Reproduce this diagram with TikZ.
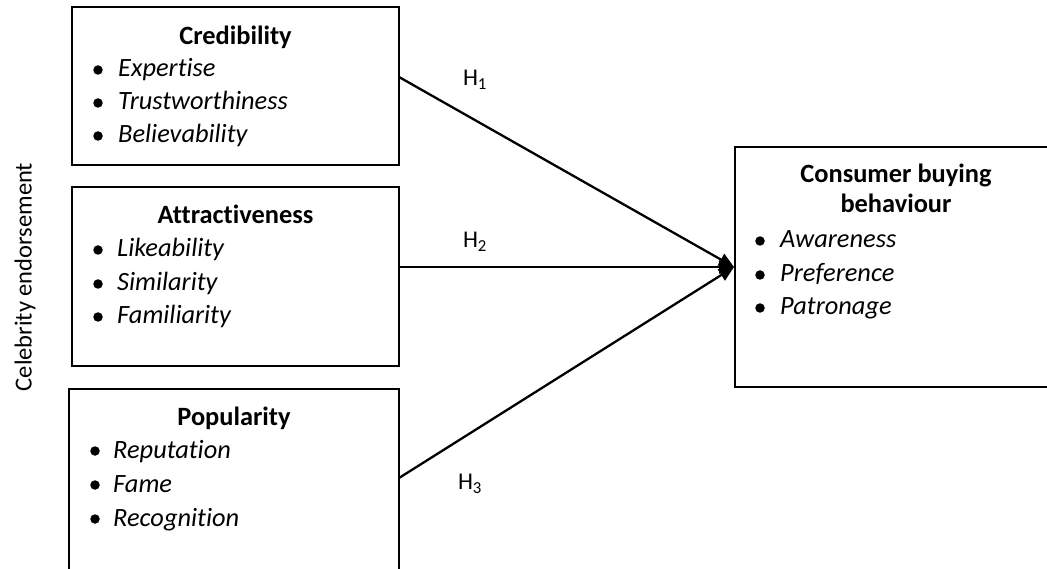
\documentclass[tikz,border=0pt]{standalone}
\usepackage{fontspec}
\setmainfont{Carlito}[RawFeature=-liga]
\usetikzlibrary{arrows.meta}
\begin{document}
\begin{tikzpicture}[x=1pt,y=-1pt,
  box/.style={draw,line width=1.8pt,inner sep=0pt},
  title/.style={anchor=base,font=\fontsize{26.4}{30}\selectfont\bfseries,inner sep=0pt},
  item/.style={anchor=base west,font=\fontsize{26.4}{30}\selectfont\itshape,inner sep=0pt},
  hlab/.style={font=\fontsize{24}{28}\selectfont,inner sep=0pt},
  bul/.style={fill=black,circle,inner sep=0pt,minimum size=9.5pt},
  link/.style={line width=2.3pt,-{Triangle[length=15pt,width=13pt]}}]
\useasboundingbox (0,0) rectangle (1047,569);
\clip (0,0) rectangle (1047,569);
% boxes
\draw[box] (72,7) rectangle (399,165);
\node[inner sep=0pt] (cred) at (235.5,86) {};
\draw[box] (72,187) rectangle (399,366);
\node[inner sep=0pt] (attr) at (235.5,276) {};
\draw[box] (69,389) rectangle (399,590);
\node[inner sep=0pt] (pop) at (234,480) {};
\draw[box] (735,147) rectangle (1060,387);
\node[inner sep=0pt] (cons) at (897,267) {};
% Credibility
\node[title] (t1) at (235.5,45) {Credibility};
\node[bul] (b11) at (98,70) {}; \node[item] (i11) at (118,77) {Expertise};
\node[bul] (b12) at (98,103) {}; \node[item] (i12) at (118,110) {Trustworthiness};
\node[bul] (b13) at (98,136) {}; \node[item] (i13) at (118,143) {Believability};
% Attractiveness
\node[title] (t2) at (235.5,224) {Attractiveness};
\node[bul] (b21) at (98,250) {}; \node[item] (i21) at (117,257) {Likeability};
\node[bul] (b22) at (98,284) {}; \node[item] (i22) at (117,291) {Similarity};
\node[bul] (b23) at (98,317) {}; \node[item] (i23) at (117,324) {Familiarity};
% Popularity
\node[title] (t3) at (234,425) {Popularity};
\node[bul] (b31) at (95,451) {}; \node[item] (i31) at (113,458) {Reputation};
\node[bul] (b32) at (95,485) {}; \node[item] (i32) at (113,492) {Fame};
\node[bul] (b33) at (95,519) {}; \node[item] (i33) at (113,526) {Recognition};
% Consumer
\node[title] (t4a) at (896,183) {Consumer buying};
\node[title] (t4b) at (896,213) {behaviour};
\node[bul] (b41) at (760,241) {}; \node[item] (i41) at (780,248) {Awareness};
\node[bul] (b42) at (760,275) {}; \node[item] (i42) at (780,282) {Preference};
\node[bul] (b43) at (760,308) {}; \node[item] (i43) at (780,315) {Patronage};
% side label
\node[rotate=90,font=\fontsize{24.5}{28}\selectfont,inner sep=0pt] (side) at (25,277) {Celebrity endorsement};
% connectors
\coordinate (s1) at (399,77);
\coordinate (s2) at (399,267);
\coordinate (s3) at (399,478);
\coordinate (tip) at (734,267);
\draw[link] (s1) -- (tip);
\draw[link] (s2) -- (tip);
\draw[link] (s3) -- (tip);
\node[hlab] (h1) at (475,80) {H\textsubscript{1}};
\node[hlab] (h2) at (475,242) {H\textsubscript{2}};
\node[hlab] (h3) at (470,484) {H\textsubscript{3}};
\end{tikzpicture}
\end{document}
